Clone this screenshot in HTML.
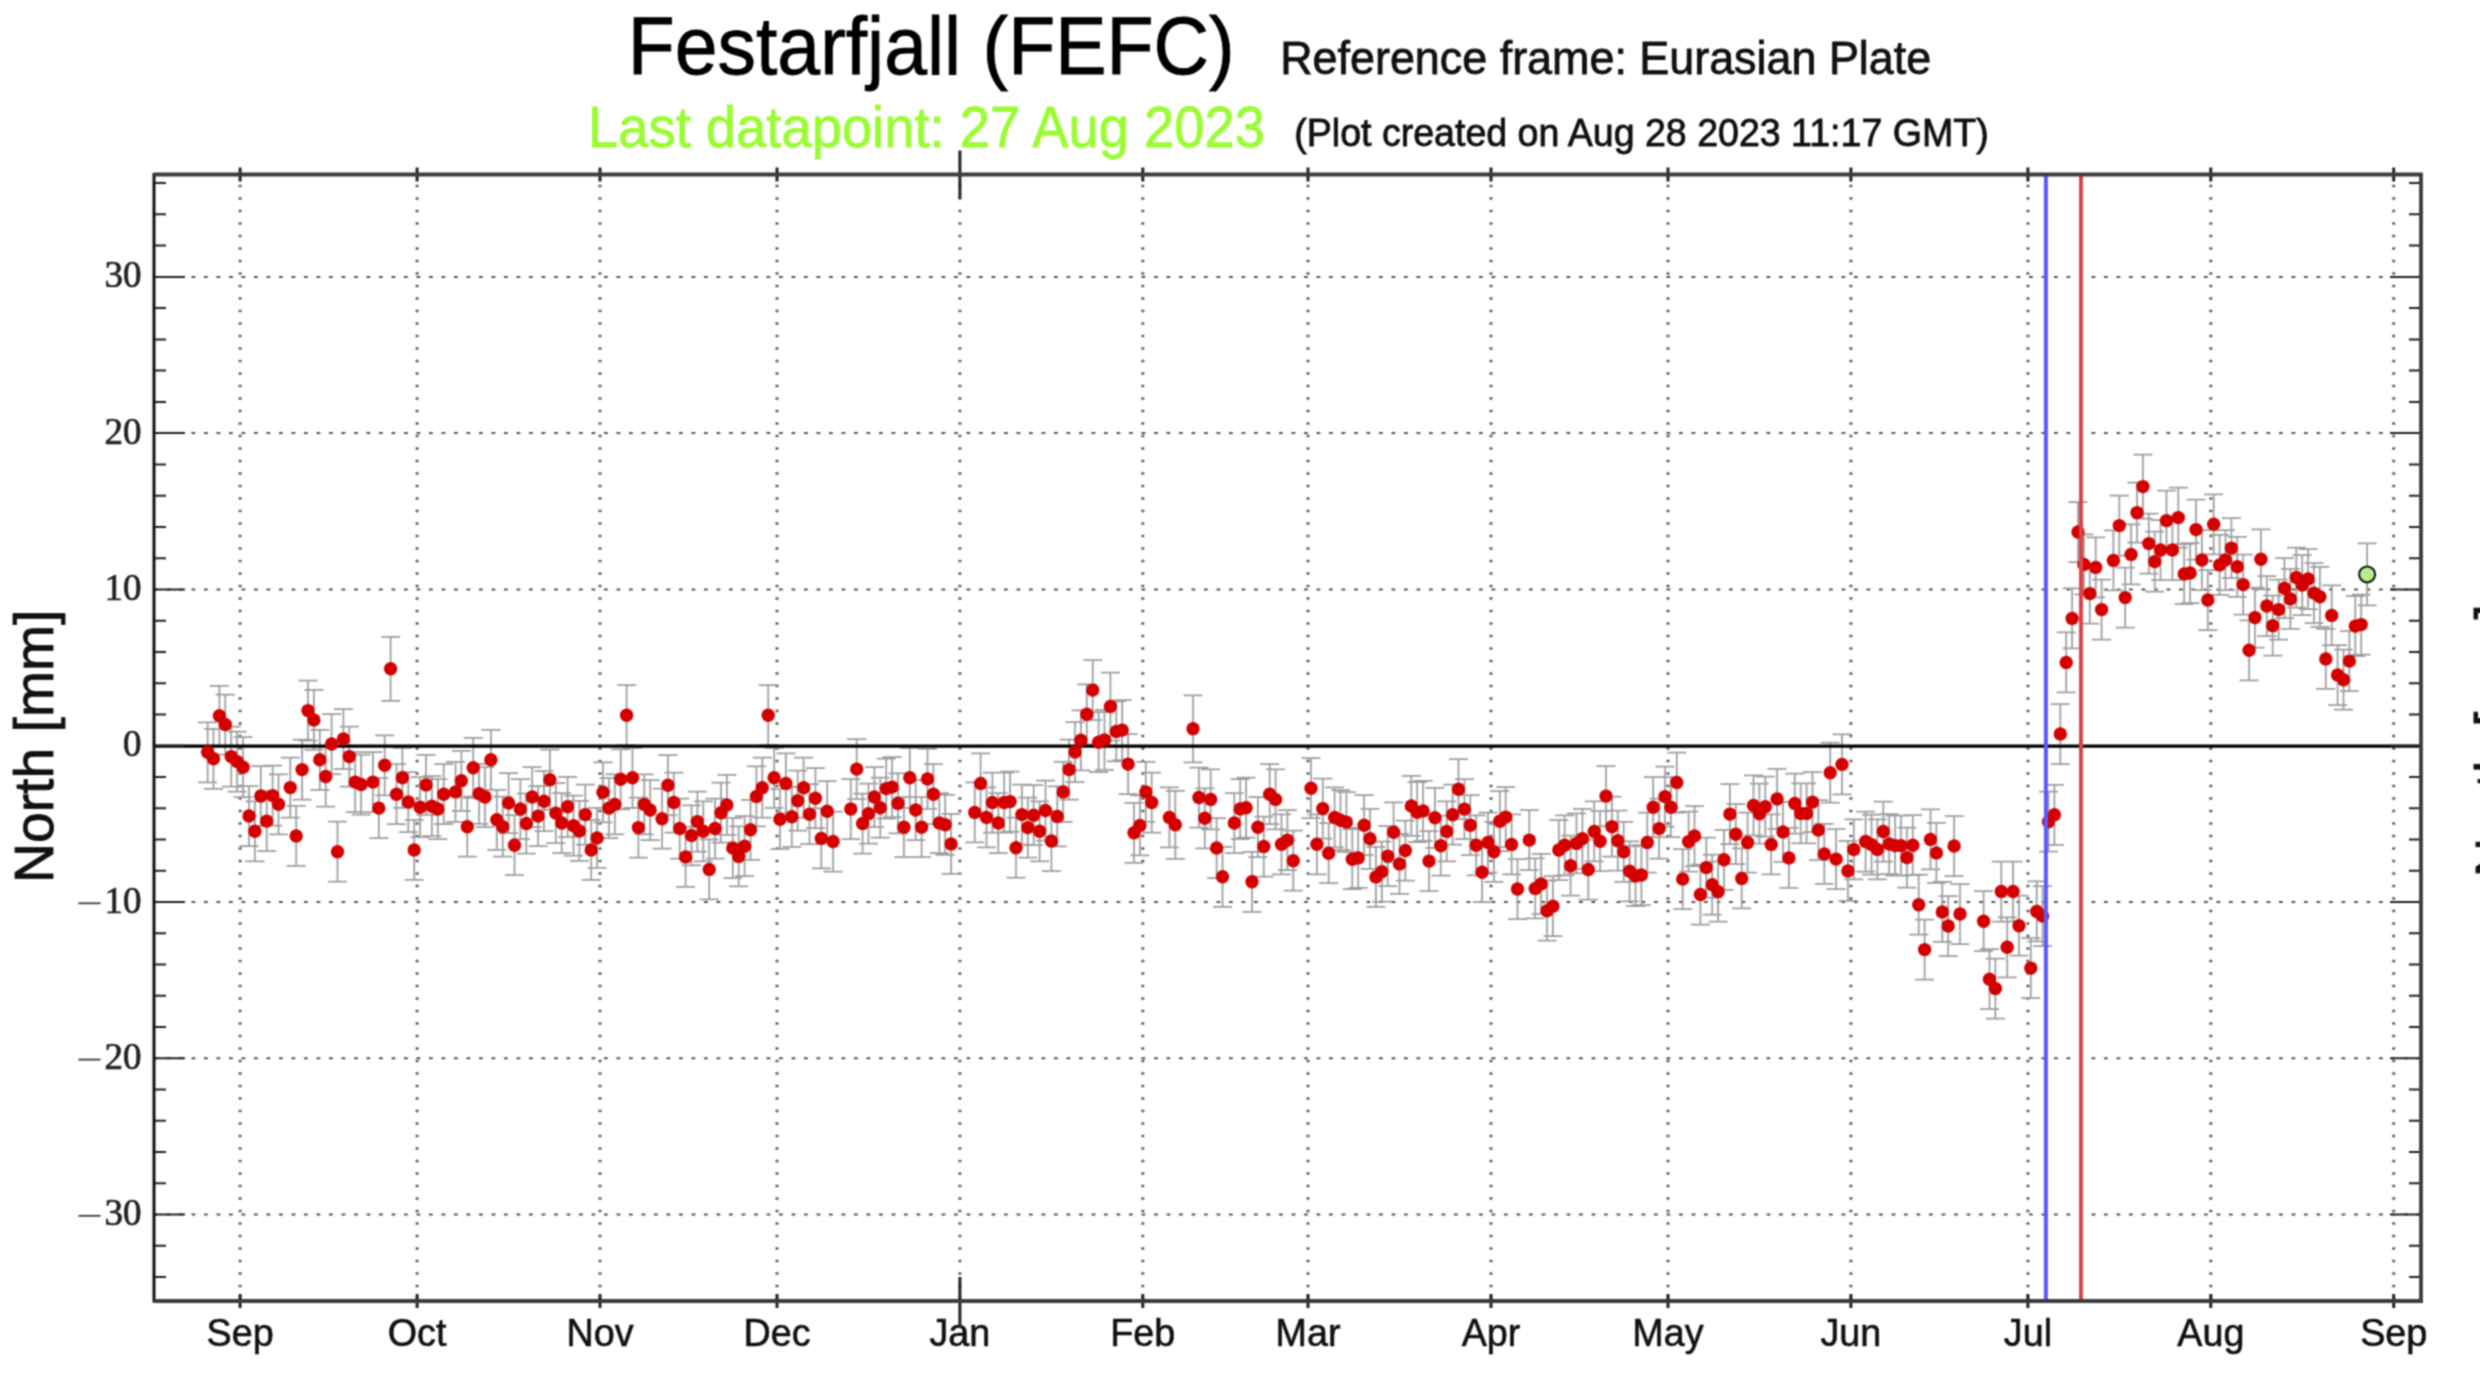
<!DOCTYPE html><html><head><meta charset="utf-8"><style>
html,body{margin:0;padding:0;background:#fff;}
svg{display:block;}
#wrap{width:2480px;height:1400px;overflow:hidden;}
text{font-family:"Liberation Sans",sans-serif;}
.serif{font-family:"Liberation Serif",serif;}
</style></head><body><div id="wrap">
<svg width="2480" height="1400" viewBox="0 0 2480 1400">
<defs><filter id="bl" color-interpolation-filters="sRGB" x="0" y="0" width="2480" height="1400" filterUnits="userSpaceOnUse"><feConvolveMatrix order="3" kernelMatrix="1 2 1 2 4 2 1 2 1" divisor="16" edgeMode="duplicate" preserveAlpha="true"/></filter></defs>
<g filter="url(#bl)">
<rect x="0" y="0" width="2480" height="1400" fill="#ffffff"/>
<path d="M240.1 174.5V1301.0M417.1 174.5V1301.0M600.0 174.5V1301.0M777.0 174.5V1301.0M959.9 174.5V1301.0M1142.8 174.5V1301.0M1308.0 174.5V1301.0M1491.0 174.5V1301.0M1668.0 174.5V1301.0M1850.9 174.5V1301.0M2027.9 174.5V1301.0M2210.8 174.5V1301.0M2393.7 174.5V1301.0" stroke="#606060" stroke-width="3" stroke-dasharray="2.6 9.9" stroke-dashoffset="2.3" fill="none"/>
<path d="M154.0 1214.5H2421.0M154.0 1058.3H2421.0M154.0 902.0H2421.0M154.0 589.4H2421.0M154.0 433.1H2421.0M154.0 276.9H2421.0" stroke="#555" stroke-width="2" stroke-dasharray="3.8 8.7" stroke-dashoffset="0" fill="none"/>
<path d="M207.6 722.3V782.3M198.1 722.3H217.1M198.1 782.3H217.1M213.5 728.8V788.8M204.0 728.8H223.0M204.0 788.8H223.0M219.4 685.8V745.8M209.9 685.8H228.9M209.9 745.8H228.9M225.3 694.5V754.5M215.8 694.5H234.8M215.8 754.5H234.8M231.2 726.6V786.6M221.7 726.6H240.7M221.7 786.6H240.7M237.1 731.6V791.6M227.6 731.6H246.6M227.6 791.6H246.6M243.1 737.2V797.2M233.6 737.2H252.6M233.6 797.2H252.6M249.0 786.0V846.0M239.5 786.0H258.5M239.5 846.0H258.5M254.9 801.3V861.3M245.4 801.3H264.4M245.4 861.3H264.4M260.8 766.0V826.0M251.3 766.0H270.3M251.3 826.0H270.3M266.7 791.1V851.1M257.2 791.1H276.2M257.2 851.1H276.2M272.6 765.6V825.6M263.1 765.6H282.1M263.1 825.6H282.1M278.5 774.3V834.3M269.0 774.3H288.0M269.0 834.3H288.0M290.3 757.6V817.6M280.8 757.6H299.8M280.8 817.6H299.8M296.2 805.9V865.9M286.7 805.9H305.7M286.7 865.9H305.7M302.1 739.6V799.6M292.6 739.6H311.6M292.6 799.6H311.6M308.0 680.6V740.6M298.5 680.6H317.5M298.5 740.6H317.5M313.9 689.9V749.9M304.4 689.9H323.4M304.4 749.9H323.4M319.8 729.8V789.8M310.3 729.8H329.3M310.3 789.8H329.3M325.7 746.5V806.5M316.2 746.5H335.2M316.2 806.5H335.2M331.6 714.0V774.0M322.1 714.0H341.1M322.1 774.0H341.1M337.5 821.7V881.7M328.0 821.7H347.0M328.0 881.7H347.0M343.4 709.0V769.0M333.9 709.0H352.9M333.9 769.0H352.9M349.3 726.6V786.6M339.8 726.6H358.8M339.8 786.6H358.8M355.2 752.1V812.1M345.7 752.1H364.7M345.7 812.1H364.7M361.1 754.5V814.5M351.6 754.5H370.6M351.6 814.5H370.6M372.9 752.1V812.1M363.4 752.1H382.4M363.4 812.1H382.4M378.8 778.1V838.1M369.3 778.1H388.3M369.3 838.1H388.3M384.7 735.3V795.3M375.2 735.3H394.2M375.2 795.3H394.2M390.6 636.8V700.8M381.1 636.8H400.1M381.1 700.8H400.1M396.5 764.2V824.2M387.0 764.2H406.0M387.0 824.2H406.0M402.4 747.8V807.8M392.9 747.8H411.9M392.9 807.8H411.9M408.3 772.0V832.0M398.8 772.0H417.8M398.8 832.0H417.8M414.2 819.9V879.9M404.7 819.9H423.7M404.7 879.9H423.7M420.1 777.2V837.2M410.6 777.2H429.6M410.6 837.2H429.6M426.0 754.9V814.9M416.5 754.9H435.5M416.5 814.9H435.5M431.9 776.2V836.2M422.4 776.2H441.4M422.4 836.2H441.4M437.8 779.0V839.0M428.3 779.0H447.3M428.3 839.0H447.3M443.7 764.2V824.2M434.2 764.2H453.2M434.2 824.2H453.2M455.5 761.9V821.9M446.0 761.9H465.0M446.0 821.9H465.0M461.4 750.8V810.8M451.9 750.8H470.9M451.9 810.8H470.9M467.3 796.7V856.7M457.8 796.7H476.8M457.8 856.7H476.8M473.2 737.8V797.8M463.7 737.8H482.7M463.7 797.8H482.7M479.1 763.8V823.8M469.6 763.8H488.6M469.6 823.8H488.6M485.0 767.0V827.0M475.5 767.0H494.5M475.5 827.0H494.5M490.9 729.8V789.8M481.4 729.8H500.4M481.4 789.8H500.4M496.8 789.8V849.8M487.3 789.8H506.3M487.3 849.8H506.3M502.7 796.7V856.7M493.2 796.7H512.2M493.2 856.7H512.2M508.6 773.1V833.1M499.1 773.1H518.1M499.1 833.1H518.1M514.5 815.2V875.2M505.0 815.2H524.0M505.0 875.2H524.0M520.4 779.0V839.0M510.9 779.0H529.9M510.9 839.0H529.9M526.3 793.5V853.5M516.8 793.5H535.8M516.8 853.5H535.8M532.2 767.0V827.0M522.7 767.0H541.7M522.7 827.0H541.7M538.1 786.1V846.1M528.6 786.1H547.6M528.6 846.1H547.6M544.0 771.2V831.2M534.5 771.2H553.5M534.5 831.2H553.5M549.9 749.7V809.7M540.4 749.7H559.4M540.4 809.7H559.4M555.8 783.1V843.1M546.3 783.1H565.3M546.3 843.1H565.3M561.7 793.0V853.0M552.2 793.0H571.2M552.2 853.0H571.2M567.6 776.8V836.8M558.1 776.8H577.1M558.1 836.8H577.1M573.5 795.7V855.7M564.0 795.7H583.0M564.0 855.7H583.0M579.4 800.9V860.9M569.9 800.9H588.9M569.9 860.9H588.9M585.3 784.6V844.6M575.8 784.6H594.8M575.8 844.6H594.8M591.2 819.9V879.9M581.7 819.9H600.7M581.7 879.9H600.7M597.1 807.9V867.9M587.6 807.9H606.6M587.6 867.9H606.6M603.0 762.3V822.3M593.5 762.3H612.5M593.5 822.3H612.5M608.9 778.1V838.1M599.4 778.1H618.4M599.4 838.1H618.4M614.8 774.4V834.4M605.3 774.4H624.3M605.3 834.4H624.3M620.7 749.3V809.3M611.2 749.3H630.2M611.2 809.3H630.2M626.6 685.2V745.2M617.1 685.2H636.1M617.1 745.2H636.1M632.5 747.8V807.8M623.0 747.8H642.0M623.0 807.8H642.0M638.4 797.6V857.6M628.9 797.6H647.9M628.9 857.6H647.9M644.3 774.4V834.4M634.8 774.4H653.8M634.8 834.4H653.8M650.2 780.0V840.0M640.7 780.0H659.7M640.7 840.0H659.7M662.0 788.7V848.7M652.5 788.7H671.5M652.5 848.7H671.5M667.9 755.2V815.2M658.4 755.2H677.4M658.4 815.2H677.4M673.8 772.5V832.5M664.3 772.5H683.3M664.3 832.5H683.3M679.7 798.5V858.5M670.2 798.5H689.2M670.2 858.5H689.2M685.6 826.9V886.9M676.1 826.9H695.1M676.1 886.9H695.1M691.5 805.4V865.4M682.0 805.4H701.0M682.0 865.4H701.0M697.4 791.6V851.6M687.9 791.6H706.9M687.9 851.6H706.9M703.3 801.3V861.3M693.8 801.3H712.8M693.8 861.3H712.8M709.2 839.4V899.4M699.7 839.4H718.7M699.7 899.4H718.7M715.1 798.5V858.5M705.6 798.5H724.6M705.6 858.5H724.6M721.0 782.7V842.7M711.5 782.7H730.5M711.5 842.7H730.5M726.9 774.9V834.9M717.4 774.9H736.4M717.4 834.9H736.4M732.8 818.0V878.0M723.3 818.0H742.3M723.3 878.0H742.3M738.7 826.4V886.4M729.2 826.4H748.2M729.2 886.4H748.2M744.6 816.2V876.2M735.1 816.2H754.1M735.1 876.2H754.1M750.5 799.8V859.8M741.0 799.8H760.0M741.0 859.8H760.0M756.4 766.4V826.4M746.9 766.4H765.9M746.9 826.4H765.9M762.3 757.7V817.7M752.8 757.7H771.8M752.8 817.7H771.8M768.2 685.2V745.2M758.7 685.2H777.7M758.7 745.2H777.7M774.1 747.8V807.8M764.6 747.8H783.6M764.6 807.8H783.6M780.0 789.2V849.2M770.5 789.2H789.5M770.5 849.2H789.5M785.9 753.4V813.4M776.4 753.4H795.4M776.4 813.4H795.4M791.8 786.8V846.8M782.3 786.8H801.3M782.3 846.8H801.3M797.7 770.7V830.7M788.2 770.7H807.2M788.2 830.7H807.2M803.6 757.7V817.7M794.1 757.7H813.1M794.1 817.7H813.1M809.5 784.2V844.2M800.0 784.2H819.0M800.0 844.2H819.0M815.4 768.2V828.2M805.9 768.2H824.9M805.9 828.2H824.9M821.3 808.4V868.4M811.8 808.4H830.8M811.8 868.4H830.8M827.2 781.2V841.2M817.7 781.2H836.7M817.7 841.2H836.7M833.1 811.5V871.5M823.6 811.5H842.6M823.6 871.5H842.6M850.8 779.0V839.0M841.3 779.0H860.3M841.3 839.0H860.3M856.7 739.1V799.1M847.2 739.1H866.2M847.2 799.1H866.2M862.6 793.5V853.5M853.1 793.5H872.1M853.1 853.5H872.1M868.5 783.7V843.7M859.0 783.7H878.0M859.0 843.7H878.0M874.4 767.0V827.0M864.9 767.0H883.9M864.9 827.0H883.9M880.3 777.7V837.7M870.8 777.7H889.8M870.8 837.7H889.8M886.2 758.6V818.6M876.7 758.6H895.7M876.7 818.6H895.7M892.1 757.1V817.1M882.6 757.1H901.6M882.6 817.1H901.6M898.0 773.4V833.4M888.5 773.4H907.5M888.5 833.4H907.5M903.9 797.2V857.2M894.4 797.2H913.4M894.4 857.2H913.4M909.8 747.8V807.8M900.3 747.8H919.3M900.3 807.8H919.3M915.7 780.0V840.0M906.2 780.0H925.2M906.2 840.0H925.2M921.6 797.2V857.2M912.1 797.2H931.1M912.1 857.2H931.1M927.5 748.9V808.9M918.0 748.9H937.0M918.0 808.9H937.0M933.4 764.2V824.2M923.9 764.2H942.9M923.9 824.2H942.9M939.3 793.0V853.0M929.8 793.0H948.8M929.8 853.0H948.8M945.2 794.8V854.8M935.7 794.8H954.7M935.7 854.8H954.7M951.1 813.9V873.9M941.6 813.9H960.6M941.6 873.9H960.6M974.7 782.4V842.4M965.2 782.4H984.2M965.2 842.4H984.2M980.6 753.4V813.4M971.1 753.4H990.1M971.1 813.4H990.1M986.5 787.4V847.4M977.0 787.4H996.0M977.0 847.4H996.0M992.4 772.5V832.5M982.9 772.5H1001.9M982.9 832.5H1001.9M998.3 793.0V853.0M988.8 793.0H1007.8M988.8 853.0H1007.8M1004.2 772.5V832.5M994.7 772.5H1013.7M994.7 832.5H1013.7M1010.1 771.6V831.6M1000.6 771.6H1019.6M1000.6 831.6H1019.6M1016.0 817.7V877.7M1006.5 817.7H1025.5M1006.5 877.7H1025.5M1021.9 784.6V844.6M1012.4 784.6H1031.4M1012.4 844.6H1031.4M1027.8 797.6V857.6M1018.3 797.6H1037.3M1018.3 857.6H1037.3M1033.7 785.2V845.2M1024.2 785.2H1043.2M1024.2 845.2H1043.2M1039.6 801.3V861.3M1030.1 801.3H1049.1M1030.1 861.3H1049.1M1045.5 780.5V840.5M1036.0 780.5H1055.0M1036.0 840.5H1055.0M1051.4 811.0V871.0M1041.9 811.0H1060.9M1041.9 871.0H1060.9M1057.3 786.4V846.4M1047.8 786.4H1066.8M1047.8 846.4H1066.8M1063.2 761.9V821.9M1053.7 761.9H1072.7M1053.7 821.9H1072.7M1069.1 739.6V799.6M1059.6 739.6H1078.6M1059.6 799.6H1078.6M1075.0 722.0V782.0M1065.5 722.0H1084.5M1065.5 782.0H1084.5M1080.9 710.3V770.3M1071.4 710.3H1090.4M1071.4 770.3H1090.4M1086.8 684.3V744.3M1077.3 684.3H1096.3M1077.3 744.3H1096.3M1092.7 660.1V720.1M1083.2 660.1H1102.2M1083.2 720.1H1102.2M1098.6 712.2V772.2M1089.1 712.2H1108.1M1089.1 772.2H1108.1M1104.5 709.9V769.9M1095.0 709.9H1114.0M1095.0 769.9H1114.0M1110.4 672.5V740.5M1100.9 672.5H1119.9M1100.9 740.5H1119.9M1116.3 701.4V761.4M1106.8 701.4H1125.8M1106.8 761.4H1125.8M1122.2 700.1V760.1M1112.7 700.1H1131.7M1112.7 760.1H1131.7M1128.1 734.1V794.1M1118.6 734.1H1137.6M1118.6 794.1H1137.6M1134.0 802.8V862.8M1124.5 802.8H1143.5M1124.5 862.8H1143.5M1139.9 795.4V855.4M1130.4 795.4H1149.4M1130.4 855.4H1149.4M1145.8 761.9V821.9M1136.3 761.9H1155.3M1136.3 821.9H1155.3M1151.7 772.5V832.5M1142.2 772.5H1161.2M1142.2 832.5H1161.2M1169.4 787.4V847.4M1159.9 787.4H1178.9M1159.9 847.4H1178.9M1175.3 790.8V858.8M1165.8 790.8H1184.8M1165.8 858.8H1184.8M1193.0 695.3V762.3M1183.5 695.3H1202.5M1183.5 762.3H1202.5M1198.9 767.5V827.5M1189.4 767.5H1208.4M1189.4 827.5H1208.4M1204.8 788.3V848.3M1195.3 788.3H1214.3M1195.3 848.3H1214.3M1210.7 769.4V829.4M1201.2 769.4H1220.2M1201.2 829.4H1220.2M1216.6 818.0V878.0M1207.1 818.0H1226.1M1207.1 878.0H1226.1M1222.5 846.8V906.8M1213.0 846.8H1232.0M1213.0 906.8H1232.0M1234.3 793.0V853.0M1224.8 793.0H1243.8M1224.8 853.0H1243.8M1240.2 779.0V839.0M1230.7 779.0H1249.7M1230.7 839.0H1249.7M1246.1 777.7V837.7M1236.6 777.7H1255.6M1236.6 837.7H1255.6M1252.0 851.8V911.8M1242.5 851.8H1261.5M1242.5 911.8H1261.5M1257.9 797.2V857.2M1248.4 797.2H1267.4M1248.4 857.2H1267.4M1263.8 816.5V876.5M1254.3 816.5H1273.3M1254.3 876.5H1273.3M1269.7 764.2V824.2M1260.2 764.2H1279.2M1260.2 824.2H1279.2M1275.6 769.4V829.4M1266.1 769.4H1285.1M1266.1 829.4H1285.1M1281.5 814.3V874.3M1272.0 814.3H1291.0M1272.0 874.3H1291.0M1287.4 810.2V870.2M1277.9 810.2H1296.9M1277.9 870.2H1296.9M1293.3 830.7V890.7M1283.8 830.7H1302.8M1283.8 890.7H1302.8M1311.0 758.2V818.2M1301.5 758.2H1320.5M1301.5 818.2H1320.5M1316.9 814.3V874.3M1307.4 814.3H1326.4M1307.4 874.3H1326.4M1322.8 778.6V838.6M1313.3 778.6H1332.3M1313.3 838.6H1332.3M1328.7 823.2V883.2M1319.2 823.2H1338.2M1319.2 883.2H1338.2M1334.6 787.4V847.4M1325.1 787.4H1344.1M1325.1 847.4H1344.1M1340.5 790.2V850.2M1331.0 790.2H1350.0M1331.0 850.2H1350.0M1346.4 792.1V852.1M1336.9 792.1H1355.9M1336.9 852.1H1355.9M1352.3 829.2V889.2M1342.8 829.2H1361.8M1342.8 889.2H1361.8M1358.2 827.9V887.9M1348.7 827.9H1367.7M1348.7 887.9H1367.7M1364.1 795.2V855.2M1354.6 795.2H1373.6M1354.6 855.2H1373.6M1370.0 808.8V868.8M1360.5 808.8H1379.5M1360.5 868.8H1379.5M1375.9 846.9V906.9M1366.4 846.9H1385.4M1366.4 906.9H1385.4M1381.8 841.7V901.7M1372.3 841.7H1391.3M1372.3 901.7H1391.3M1387.7 826.1V886.1M1378.2 826.1H1397.2M1378.2 886.1H1397.2M1393.6 802.3V862.3M1384.1 802.3H1403.1M1384.1 862.3H1403.1M1399.5 833.9V893.9M1390.0 833.9H1409.0M1390.0 893.9H1409.0M1405.4 820.5V880.5M1395.9 820.5H1414.9M1395.9 880.5H1414.9M1411.3 775.9V835.9M1401.8 775.9H1420.8M1401.8 835.9H1420.8M1417.2 782.2V842.2M1407.7 782.2H1426.7M1407.7 842.2H1426.7M1423.1 780.9V840.9M1413.6 780.9H1432.6M1413.6 840.9H1432.6M1429.0 831.1V891.1M1419.5 831.1H1438.5M1419.5 891.1H1438.5M1434.9 787.8V847.8M1425.4 787.8H1444.4M1425.4 847.8H1444.4M1440.8 815.7V875.7M1431.3 815.7H1450.3M1431.3 875.7H1450.3M1446.7 801.4V861.4M1437.2 801.4H1456.2M1437.2 861.4H1456.2M1452.6 784.7V844.7M1443.1 784.7H1462.1M1443.1 844.7H1462.1M1458.5 759.2V819.2M1449.0 759.2H1468.0M1449.0 819.2H1468.0M1464.4 779.1V839.1M1454.9 779.1H1473.9M1454.9 839.1H1473.9M1470.3 795.2V855.2M1460.8 795.2H1479.8M1460.8 855.2H1479.8M1476.2 815.3V875.3M1466.7 815.3H1485.7M1466.7 875.3H1485.7M1482.1 842.2V902.2M1472.6 842.2H1491.6M1472.6 902.2H1491.6M1488.0 812.5V872.5M1478.5 812.5H1497.5M1478.5 872.5H1497.5M1493.9 821.8V881.8M1484.4 821.8H1503.4M1484.4 881.8H1503.4M1499.8 791.2V851.2M1490.3 791.2H1509.3M1490.3 851.2H1509.3M1505.7 787.1V847.1M1496.2 787.1H1515.2M1496.2 847.1H1515.2M1511.6 814.4V874.4M1502.1 814.4H1521.1M1502.1 874.4H1521.1M1517.5 859.0V919.0M1508.0 859.0H1527.0M1508.0 919.0H1527.0M1529.3 810.1V870.1M1519.8 810.1H1538.8M1519.8 870.1H1538.8M1535.2 858.4V918.4M1525.7 858.4H1544.7M1525.7 918.4H1544.7M1541.1 853.9V913.9M1531.6 853.9H1550.6M1531.6 913.9H1550.6M1547.0 880.7V940.7M1537.5 880.7H1556.5M1537.5 940.7H1556.5M1552.9 876.2V936.2M1543.4 876.2H1562.4M1543.4 936.2H1562.4M1558.8 820.0V880.0M1549.3 820.0H1568.3M1549.3 880.0H1568.3M1564.7 815.3V875.3M1555.2 815.3H1574.2M1555.2 875.3H1574.2M1570.6 835.7V895.7M1561.1 835.7H1580.1M1561.1 895.7H1580.1M1576.5 813.4V873.4M1567.0 813.4H1586.0M1567.0 873.4H1586.0M1582.4 808.8V868.8M1572.9 808.8H1591.9M1572.9 868.8H1591.9M1588.3 839.5V899.5M1578.8 839.5H1597.8M1578.8 899.5H1597.8M1594.2 801.4V861.4M1584.7 801.4H1603.7M1584.7 861.4H1603.7M1600.1 811.2V871.2M1590.6 811.2H1609.6M1590.6 871.2H1609.6M1606.0 766.1V826.1M1596.5 766.1H1615.5M1596.5 826.1H1615.5M1611.9 796.7V856.7M1602.4 796.7H1621.4M1602.4 856.7H1621.4M1617.8 810.7V870.7M1608.3 810.7H1627.3M1608.3 870.7H1627.3M1623.7 821.8V881.8M1614.2 821.8H1633.2M1614.2 881.8H1633.2M1629.6 841.3V901.3M1620.1 841.3H1639.1M1620.1 901.3H1639.1M1635.5 846.0V906.0M1626.0 846.0H1645.0M1626.0 906.0H1645.0M1641.4 845.0V905.0M1631.9 845.0H1650.9M1631.9 905.0H1650.9M1647.3 812.5V872.5M1637.8 812.5H1656.8M1637.8 872.5H1656.8M1653.2 777.2V837.2M1643.7 777.2H1662.7M1643.7 837.2H1662.7M1659.1 798.6V858.6M1649.6 798.6H1668.6M1649.6 858.6H1668.6M1665.0 766.6V826.6M1655.5 766.6H1674.5M1655.5 826.6H1674.5M1670.9 777.2V837.2M1661.4 777.2H1680.4M1661.4 837.2H1680.4M1676.8 752.5V812.5M1667.3 752.5H1686.3M1667.3 812.5H1686.3M1682.7 849.1V909.1M1673.2 849.1H1692.2M1673.2 909.1H1692.2M1688.6 811.6V871.6M1679.1 811.6H1698.1M1679.1 871.6H1698.1M1694.5 806.0V866.0M1685.0 806.0H1704.0M1685.0 866.0H1704.0M1700.4 864.5V924.5M1690.9 864.5H1709.9M1690.9 924.5H1709.9M1706.3 837.6V897.6M1696.8 837.6H1715.8M1696.8 897.6H1715.8M1712.2 854.7V914.7M1702.7 854.7H1721.7M1702.7 914.7H1721.7M1718.1 861.7V921.7M1708.6 861.7H1727.6M1708.6 921.7H1727.6M1724.0 829.8V889.8M1714.5 829.8H1733.5M1714.5 889.8H1733.5M1729.9 784.1V844.1M1720.4 784.1H1739.4M1720.4 844.1H1739.4M1735.8 804.2V864.2M1726.3 804.2H1745.3M1726.3 864.2H1745.3M1741.7 848.4V908.4M1732.2 848.4H1751.2M1732.2 908.4H1751.2M1747.6 812.5V872.5M1738.1 812.5H1757.1M1738.1 872.5H1757.1M1753.5 775.4V835.4M1744.0 775.4H1763.0M1744.0 835.4H1763.0M1759.4 783.7V843.7M1749.9 783.7H1768.9M1749.9 843.7H1768.9M1765.3 776.7V836.7M1755.8 776.7H1774.8M1755.8 836.7H1774.8M1771.2 814.4V874.4M1761.7 814.4H1780.7M1761.7 874.4H1780.7M1777.1 768.9V828.9M1767.6 768.9H1786.6M1767.6 828.9H1786.6M1783.0 801.9V861.9M1773.5 801.9H1792.5M1773.5 861.9H1792.5M1788.9 827.9V887.9M1779.4 827.9H1798.4M1779.4 887.9H1798.4M1794.8 773.5V833.5M1785.3 773.5H1804.3M1785.3 833.5H1804.3M1800.7 783.4V843.4M1791.2 783.4H1810.2M1791.2 843.4H1810.2M1806.6 783.4V843.4M1797.1 783.4H1816.1M1797.1 843.4H1816.1M1812.5 772.1V832.1M1803.0 772.1H1822.0M1803.0 832.1H1822.0M1818.4 800.1V860.1M1808.9 800.1H1827.9M1808.9 860.1H1827.9M1824.3 823.9V883.9M1814.8 823.9H1833.8M1814.8 883.9H1833.8M1830.2 742.7V802.7M1820.7 742.7H1839.7M1820.7 802.7H1839.7M1836.1 829.1V889.1M1826.6 829.1H1845.6M1826.6 889.1H1845.6M1842.0 734.4V794.4M1832.5 734.4H1851.5M1832.5 794.4H1851.5M1847.9 840.9V900.9M1838.4 840.9H1857.4M1838.4 900.9H1857.4M1853.8 819.4V879.4M1844.3 819.4H1863.3M1844.3 879.4H1863.3M1865.6 811.5V871.5M1856.1 811.5H1875.1M1856.1 871.5H1875.1M1871.5 814.6V874.6M1862.0 814.6H1881.0M1862.0 874.6H1881.0M1877.4 819.4V879.4M1867.9 819.4H1886.9M1867.9 879.4H1886.9M1883.3 801.5V861.5M1873.8 801.5H1892.8M1873.8 861.5H1892.8M1889.2 814.0V874.0M1879.7 814.0H1898.7M1879.7 874.0H1898.7M1895.1 815.6V875.6M1885.6 815.6H1904.6M1885.6 875.6H1904.6M1901.0 815.6V875.6M1891.5 815.6H1910.5M1891.5 875.6H1910.5M1906.9 827.6V887.6M1897.4 827.6H1916.4M1897.4 887.6H1916.4M1912.8 815.2V875.2M1903.3 815.2H1922.3M1903.3 875.2H1922.3M1918.7 874.7V934.7M1909.2 874.7H1928.2M1909.2 934.7H1928.2M1924.6 919.6V979.6M1915.1 919.6H1934.1M1915.1 979.6H1934.1M1930.5 809.4V869.4M1921.0 809.4H1940.0M1921.0 869.4H1940.0M1936.4 822.9V882.9M1926.9 822.9H1945.9M1926.9 882.9H1945.9M1942.3 881.9V941.9M1932.8 881.9H1951.8M1932.8 941.9H1951.8M1948.2 896.0V956.0M1938.7 896.0H1957.7M1938.7 956.0H1957.7M1954.1 816.0V876.0M1944.6 816.0H1963.6M1944.6 876.0H1963.6M1960.0 884.0V944.0M1950.5 884.0H1969.5M1950.5 944.0H1969.5M1983.6 891.2V951.2M1974.1 891.2H1993.1M1974.1 951.2H1993.1M1989.5 949.2V1009.2M1980.0 949.2H1999.0M1980.0 1009.2H1999.0M1995.4 958.5V1018.5M1985.9 958.5H2004.9M1985.9 1018.5H2004.9M2001.3 861.5V921.5M1991.8 861.5H2010.8M1991.8 921.5H2010.8M2007.2 917.3V977.3M1997.7 917.3H2016.7M1997.7 977.3H2016.7M2013.1 861.5V921.5M2003.6 861.5H2022.6M2003.6 921.5H2022.6M2019.0 895.7V955.7M2009.5 895.7H2028.5M2009.5 955.7H2028.5M2030.8 938.1V998.1M2021.3 938.1H2040.3M2021.3 998.1H2040.3M2036.7 881.4V941.4M2027.2 881.4H2046.2M2027.2 941.4H2046.2M2042.6 886.0V946.0M2033.1 886.0H2052.1M2033.1 946.0H2052.1M2048.5 791.7V851.7M2039.0 791.7H2058.0M2039.0 851.7H2058.0M2054.4 784.8V844.8M2044.9 784.8H2063.9M2044.9 844.8H2063.9M2060.3 704.0V764.0M2050.8 704.0H2069.8M2050.8 764.0H2069.8M2066.2 632.4V692.4M2056.7 632.4H2075.7M2056.7 692.4H2075.7M2072.1 588.4V648.4M2062.6 588.4H2081.6M2062.6 648.4H2081.6M2078.0 502.0V562.0M2068.5 502.0H2087.5M2068.5 562.0H2087.5M2083.9 534.4V594.4M2074.4 534.4H2093.4M2074.4 594.4H2093.4M2089.8 563.6V623.6M2080.3 563.6H2099.3M2080.3 623.6H2099.3M2095.7 537.4V597.4M2086.2 537.4H2105.2M2086.2 597.4H2105.2M2101.6 579.6V639.6M2092.1 579.6H2111.1M2092.1 639.6H2111.1M2113.4 530.4V590.4M2103.9 530.4H2122.9M2103.9 590.4H2122.9M2119.3 495.6V555.6M2109.8 495.6H2128.8M2109.8 555.6H2128.8M2125.2 567.6V627.6M2115.7 567.6H2134.7M2115.7 627.6H2134.7M2131.1 524.4V584.4M2121.6 524.4H2140.6M2121.6 584.4H2140.6M2137.0 482.6V542.6M2127.5 482.6H2146.5M2127.5 542.6H2146.5M2142.9 454.6V518.6M2133.4 454.6H2152.4M2133.4 518.6H2152.4M2148.8 513.6V573.6M2139.3 513.6H2158.3M2139.3 573.6H2158.3M2154.7 531.6V591.6M2145.2 531.6H2164.2M2145.2 591.6H2164.2M2160.6 520.0V580.0M2151.1 520.0H2170.1M2151.1 580.0H2170.1M2166.5 490.6V550.6M2157.0 490.6H2176.0M2157.0 550.6H2176.0M2172.4 520.0V580.0M2162.9 520.0H2181.9M2162.9 580.0H2181.9M2178.3 487.6V547.6M2168.8 487.6H2187.8M2168.8 547.6H2187.8M2184.2 544.0V604.0M2174.7 544.0H2193.7M2174.7 604.0H2193.7M2190.1 543.0V603.0M2180.6 543.0H2199.6M2180.6 603.0H2199.6M2196.0 499.6V559.6M2186.5 499.6H2205.5M2186.5 559.6H2205.5M2201.9 530.0V590.0M2192.4 530.0H2211.4M2192.4 590.0H2211.4M2207.8 570.0V630.0M2198.3 570.0H2217.3M2198.3 630.0H2217.3M2213.7 494.3V554.3M2204.2 494.3H2223.2M2204.2 554.3H2223.2M2219.6 534.9V594.9M2210.1 534.9H2229.1M2210.1 594.9H2229.1M2225.5 530.0V590.0M2216.0 530.0H2235.0M2216.0 590.0H2235.0M2231.4 518.1V578.1M2221.9 518.1H2240.9M2221.9 578.1H2240.9M2237.3 536.8V596.8M2227.8 536.8H2246.8M2227.8 596.8H2246.8M2243.2 554.6V614.6M2233.7 554.6H2252.7M2233.7 614.6H2252.7M2249.1 620.3V680.3M2239.6 620.3H2258.6M2239.6 680.3H2258.6M2255.0 587.6V647.6M2245.5 587.6H2264.5M2245.5 647.6H2264.5M2260.9 529.3V589.3M2251.4 529.3H2270.4M2251.4 589.3H2270.4M2266.8 576.0V636.0M2257.3 576.0H2276.3M2257.3 636.0H2276.3M2272.7 595.7V655.7M2263.2 595.7H2282.2M2263.2 655.7H2282.2M2278.6 579.6V639.6M2269.1 579.6H2288.1M2269.1 639.6H2288.1M2284.5 558.2V618.2M2275.0 558.2H2294.0M2275.0 618.2H2294.0M2290.4 568.9V628.9M2280.9 568.9H2299.9M2280.9 628.9H2299.9M2296.3 547.5V607.5M2286.8 547.5H2305.8M2286.8 607.5H2305.8M2302.2 555.0V615.0M2292.7 555.0H2311.7M2292.7 615.0H2311.7M2308.1 549.0V609.0M2298.6 549.0H2317.6M2298.6 609.0H2317.6M2314.0 563.1V623.1M2304.5 563.1H2323.5M2304.5 623.1H2323.5M2319.9 566.8V626.8M2310.4 566.8H2329.4M2310.4 626.8H2329.4M2325.8 628.9V688.9M2316.3 628.9H2335.3M2316.3 688.9H2335.3M2331.7 585.4V645.4M2322.2 585.4H2341.2M2322.2 645.4H2341.2M2337.6 645.0V705.0M2328.1 645.0H2347.1M2328.1 705.0H2347.1M2343.5 649.7V709.7M2334.0 649.7H2353.0M2334.0 709.7H2353.0M2349.4 631.1V691.1M2339.9 631.1H2358.9M2339.9 691.1H2358.9M2355.3 596.1V656.1M2345.8 596.1H2364.8M2345.8 656.1H2364.8M2361.2 594.6V654.6M2351.7 594.6H2370.7M2351.7 654.6H2370.7M2367.1 543.4V605.4M2357.6 543.4H2376.6M2357.6 605.4H2376.6" stroke="#9e9e9e" stroke-width="1.75" fill="none"/>
<path d="M154.0 746.2H2421.0" stroke="#000" stroke-width="3.2"/>
<g fill="#d40000"><circle cx="207.6" cy="752.3" r="6.7"/><circle cx="213.5" cy="758.8" r="6.7"/><circle cx="219.4" cy="715.8" r="6.7"/><circle cx="225.3" cy="724.5" r="6.7"/><circle cx="231.2" cy="756.6" r="6.7"/><circle cx="237.1" cy="761.6" r="6.7"/><circle cx="243.1" cy="767.2" r="6.7"/><circle cx="249.0" cy="816.0" r="6.7"/><circle cx="254.9" cy="831.3" r="6.7"/><circle cx="260.8" cy="796.0" r="6.7"/><circle cx="266.7" cy="821.1" r="6.7"/><circle cx="272.6" cy="795.6" r="6.7"/><circle cx="278.5" cy="804.3" r="6.7"/><circle cx="290.3" cy="787.6" r="6.7"/><circle cx="296.2" cy="835.9" r="6.7"/><circle cx="302.1" cy="769.6" r="6.7"/><circle cx="308.0" cy="710.6" r="6.7"/><circle cx="313.9" cy="719.9" r="6.7"/><circle cx="319.8" cy="759.8" r="6.7"/><circle cx="325.7" cy="776.5" r="6.7"/><circle cx="331.6" cy="744.0" r="6.7"/><circle cx="337.5" cy="851.7" r="6.7"/><circle cx="343.4" cy="739.0" r="6.7"/><circle cx="349.3" cy="756.6" r="6.7"/><circle cx="355.2" cy="782.1" r="6.7"/><circle cx="361.1" cy="784.5" r="6.7"/><circle cx="372.9" cy="782.1" r="6.7"/><circle cx="378.8" cy="808.1" r="6.7"/><circle cx="384.7" cy="765.3" r="6.7"/><circle cx="390.6" cy="668.8" r="6.7"/><circle cx="396.5" cy="794.2" r="6.7"/><circle cx="402.4" cy="777.8" r="6.7"/><circle cx="408.3" cy="802.0" r="6.7"/><circle cx="414.2" cy="849.9" r="6.7"/><circle cx="420.1" cy="807.2" r="6.7"/><circle cx="426.0" cy="784.9" r="6.7"/><circle cx="431.9" cy="806.2" r="6.7"/><circle cx="437.8" cy="809.0" r="6.7"/><circle cx="443.7" cy="794.2" r="6.7"/><circle cx="455.5" cy="791.9" r="6.7"/><circle cx="461.4" cy="780.8" r="6.7"/><circle cx="467.3" cy="826.7" r="6.7"/><circle cx="473.2" cy="767.8" r="6.7"/><circle cx="479.1" cy="793.8" r="6.7"/><circle cx="485.0" cy="797.0" r="6.7"/><circle cx="490.9" cy="759.8" r="6.7"/><circle cx="496.8" cy="819.8" r="6.7"/><circle cx="502.7" cy="826.7" r="6.7"/><circle cx="508.6" cy="803.1" r="6.7"/><circle cx="514.5" cy="845.2" r="6.7"/><circle cx="520.4" cy="809.0" r="6.7"/><circle cx="526.3" cy="823.5" r="6.7"/><circle cx="532.2" cy="797.0" r="6.7"/><circle cx="538.1" cy="816.1" r="6.7"/><circle cx="544.0" cy="801.2" r="6.7"/><circle cx="549.9" cy="779.7" r="6.7"/><circle cx="555.8" cy="813.1" r="6.7"/><circle cx="561.7" cy="823.0" r="6.7"/><circle cx="567.6" cy="806.8" r="6.7"/><circle cx="573.5" cy="825.7" r="6.7"/><circle cx="579.4" cy="830.9" r="6.7"/><circle cx="585.3" cy="814.6" r="6.7"/><circle cx="591.2" cy="849.9" r="6.7"/><circle cx="597.1" cy="837.9" r="6.7"/><circle cx="603.0" cy="792.3" r="6.7"/><circle cx="608.9" cy="808.1" r="6.7"/><circle cx="614.8" cy="804.4" r="6.7"/><circle cx="620.7" cy="779.3" r="6.7"/><circle cx="626.6" cy="715.2" r="6.7"/><circle cx="632.5" cy="777.8" r="6.7"/><circle cx="638.4" cy="827.6" r="6.7"/><circle cx="644.3" cy="804.4" r="6.7"/><circle cx="650.2" cy="810.0" r="6.7"/><circle cx="662.0" cy="818.7" r="6.7"/><circle cx="667.9" cy="785.2" r="6.7"/><circle cx="673.8" cy="802.5" r="6.7"/><circle cx="679.7" cy="828.5" r="6.7"/><circle cx="685.6" cy="856.9" r="6.7"/><circle cx="691.5" cy="835.4" r="6.7"/><circle cx="697.4" cy="821.6" r="6.7"/><circle cx="703.3" cy="831.3" r="6.7"/><circle cx="709.2" cy="869.4" r="6.7"/><circle cx="715.1" cy="828.5" r="6.7"/><circle cx="721.0" cy="812.7" r="6.7"/><circle cx="726.9" cy="804.9" r="6.7"/><circle cx="732.8" cy="848.0" r="6.7"/><circle cx="738.7" cy="856.4" r="6.7"/><circle cx="744.6" cy="846.2" r="6.7"/><circle cx="750.5" cy="829.8" r="6.7"/><circle cx="756.4" cy="796.4" r="6.7"/><circle cx="762.3" cy="787.7" r="6.7"/><circle cx="768.2" cy="715.2" r="6.7"/><circle cx="774.1" cy="777.8" r="6.7"/><circle cx="780.0" cy="819.2" r="6.7"/><circle cx="785.9" cy="783.4" r="6.7"/><circle cx="791.8" cy="816.8" r="6.7"/><circle cx="797.7" cy="800.7" r="6.7"/><circle cx="803.6" cy="787.7" r="6.7"/><circle cx="809.5" cy="814.2" r="6.7"/><circle cx="815.4" cy="798.2" r="6.7"/><circle cx="821.3" cy="838.4" r="6.7"/><circle cx="827.2" cy="811.2" r="6.7"/><circle cx="833.1" cy="841.5" r="6.7"/><circle cx="850.8" cy="809.0" r="6.7"/><circle cx="856.7" cy="769.1" r="6.7"/><circle cx="862.6" cy="823.5" r="6.7"/><circle cx="868.5" cy="813.7" r="6.7"/><circle cx="874.4" cy="797.0" r="6.7"/><circle cx="880.3" cy="807.7" r="6.7"/><circle cx="886.2" cy="788.6" r="6.7"/><circle cx="892.1" cy="787.1" r="6.7"/><circle cx="898.0" cy="803.4" r="6.7"/><circle cx="903.9" cy="827.2" r="6.7"/><circle cx="909.8" cy="777.8" r="6.7"/><circle cx="915.7" cy="810.0" r="6.7"/><circle cx="921.6" cy="827.2" r="6.7"/><circle cx="927.5" cy="778.9" r="6.7"/><circle cx="933.4" cy="794.2" r="6.7"/><circle cx="939.3" cy="823.0" r="6.7"/><circle cx="945.2" cy="824.8" r="6.7"/><circle cx="951.1" cy="843.9" r="6.7"/><circle cx="974.7" cy="812.4" r="6.7"/><circle cx="980.6" cy="783.4" r="6.7"/><circle cx="986.5" cy="817.4" r="6.7"/><circle cx="992.4" cy="802.5" r="6.7"/><circle cx="998.3" cy="823.0" r="6.7"/><circle cx="1004.2" cy="802.5" r="6.7"/><circle cx="1010.1" cy="801.6" r="6.7"/><circle cx="1016.0" cy="847.7" r="6.7"/><circle cx="1021.9" cy="814.6" r="6.7"/><circle cx="1027.8" cy="827.6" r="6.7"/><circle cx="1033.7" cy="815.2" r="6.7"/><circle cx="1039.6" cy="831.3" r="6.7"/><circle cx="1045.5" cy="810.5" r="6.7"/><circle cx="1051.4" cy="841.0" r="6.7"/><circle cx="1057.3" cy="816.4" r="6.7"/><circle cx="1063.2" cy="791.9" r="6.7"/><circle cx="1069.1" cy="769.6" r="6.7"/><circle cx="1075.0" cy="752.0" r="6.7"/><circle cx="1080.9" cy="740.3" r="6.7"/><circle cx="1086.8" cy="714.3" r="6.7"/><circle cx="1092.7" cy="690.1" r="6.7"/><circle cx="1098.6" cy="742.2" r="6.7"/><circle cx="1104.5" cy="739.9" r="6.7"/><circle cx="1110.4" cy="706.5" r="6.7"/><circle cx="1116.3" cy="731.4" r="6.7"/><circle cx="1122.2" cy="730.1" r="6.7"/><circle cx="1128.1" cy="764.1" r="6.7"/><circle cx="1134.0" cy="832.8" r="6.7"/><circle cx="1139.9" cy="825.4" r="6.7"/><circle cx="1145.8" cy="791.9" r="6.7"/><circle cx="1151.7" cy="802.5" r="6.7"/><circle cx="1169.4" cy="817.4" r="6.7"/><circle cx="1175.3" cy="824.8" r="6.7"/><circle cx="1193.0" cy="728.8" r="6.7"/><circle cx="1198.9" cy="797.5" r="6.7"/><circle cx="1204.8" cy="818.3" r="6.7"/><circle cx="1210.7" cy="799.4" r="6.7"/><circle cx="1216.6" cy="848.0" r="6.7"/><circle cx="1222.5" cy="876.8" r="6.7"/><circle cx="1234.3" cy="823.0" r="6.7"/><circle cx="1240.2" cy="809.0" r="6.7"/><circle cx="1246.1" cy="807.7" r="6.7"/><circle cx="1252.0" cy="881.8" r="6.7"/><circle cx="1257.9" cy="827.2" r="6.7"/><circle cx="1263.8" cy="846.5" r="6.7"/><circle cx="1269.7" cy="794.2" r="6.7"/><circle cx="1275.6" cy="799.4" r="6.7"/><circle cx="1281.5" cy="844.3" r="6.7"/><circle cx="1287.4" cy="840.2" r="6.7"/><circle cx="1293.3" cy="860.7" r="6.7"/><circle cx="1311.0" cy="788.2" r="6.7"/><circle cx="1316.9" cy="844.3" r="6.7"/><circle cx="1322.8" cy="808.6" r="6.7"/><circle cx="1328.7" cy="853.2" r="6.7"/><circle cx="1334.6" cy="817.4" r="6.7"/><circle cx="1340.5" cy="820.2" r="6.7"/><circle cx="1346.4" cy="822.1" r="6.7"/><circle cx="1352.3" cy="859.2" r="6.7"/><circle cx="1358.2" cy="857.9" r="6.7"/><circle cx="1364.1" cy="825.2" r="6.7"/><circle cx="1370.0" cy="838.8" r="6.7"/><circle cx="1375.9" cy="876.9" r="6.7"/><circle cx="1381.8" cy="871.7" r="6.7"/><circle cx="1387.7" cy="856.1" r="6.7"/><circle cx="1393.6" cy="832.3" r="6.7"/><circle cx="1399.5" cy="863.9" r="6.7"/><circle cx="1405.4" cy="850.5" r="6.7"/><circle cx="1411.3" cy="805.9" r="6.7"/><circle cx="1417.2" cy="812.2" r="6.7"/><circle cx="1423.1" cy="810.9" r="6.7"/><circle cx="1429.0" cy="861.1" r="6.7"/><circle cx="1434.9" cy="817.8" r="6.7"/><circle cx="1440.8" cy="845.7" r="6.7"/><circle cx="1446.7" cy="831.4" r="6.7"/><circle cx="1452.6" cy="814.7" r="6.7"/><circle cx="1458.5" cy="789.2" r="6.7"/><circle cx="1464.4" cy="809.1" r="6.7"/><circle cx="1470.3" cy="825.2" r="6.7"/><circle cx="1476.2" cy="845.3" r="6.7"/><circle cx="1482.1" cy="872.2" r="6.7"/><circle cx="1488.0" cy="842.5" r="6.7"/><circle cx="1493.9" cy="851.8" r="6.7"/><circle cx="1499.8" cy="821.2" r="6.7"/><circle cx="1505.7" cy="817.1" r="6.7"/><circle cx="1511.6" cy="844.4" r="6.7"/><circle cx="1517.5" cy="889.0" r="6.7"/><circle cx="1529.3" cy="840.1" r="6.7"/><circle cx="1535.2" cy="888.4" r="6.7"/><circle cx="1541.1" cy="883.9" r="6.7"/><circle cx="1547.0" cy="910.7" r="6.7"/><circle cx="1552.9" cy="906.2" r="6.7"/><circle cx="1558.8" cy="850.0" r="6.7"/><circle cx="1564.7" cy="845.3" r="6.7"/><circle cx="1570.6" cy="865.7" r="6.7"/><circle cx="1576.5" cy="843.4" r="6.7"/><circle cx="1582.4" cy="838.8" r="6.7"/><circle cx="1588.3" cy="869.5" r="6.7"/><circle cx="1594.2" cy="831.4" r="6.7"/><circle cx="1600.1" cy="841.2" r="6.7"/><circle cx="1606.0" cy="796.1" r="6.7"/><circle cx="1611.9" cy="826.7" r="6.7"/><circle cx="1617.8" cy="840.7" r="6.7"/><circle cx="1623.7" cy="851.8" r="6.7"/><circle cx="1629.6" cy="871.3" r="6.7"/><circle cx="1635.5" cy="876.0" r="6.7"/><circle cx="1641.4" cy="875.0" r="6.7"/><circle cx="1647.3" cy="842.5" r="6.7"/><circle cx="1653.2" cy="807.2" r="6.7"/><circle cx="1659.1" cy="828.6" r="6.7"/><circle cx="1665.0" cy="796.6" r="6.7"/><circle cx="1670.9" cy="807.2" r="6.7"/><circle cx="1676.8" cy="782.5" r="6.7"/><circle cx="1682.7" cy="879.1" r="6.7"/><circle cx="1688.6" cy="841.6" r="6.7"/><circle cx="1694.5" cy="836.0" r="6.7"/><circle cx="1700.4" cy="894.5" r="6.7"/><circle cx="1706.3" cy="867.6" r="6.7"/><circle cx="1712.2" cy="884.7" r="6.7"/><circle cx="1718.1" cy="891.7" r="6.7"/><circle cx="1724.0" cy="859.8" r="6.7"/><circle cx="1729.9" cy="814.1" r="6.7"/><circle cx="1735.8" cy="834.2" r="6.7"/><circle cx="1741.7" cy="878.4" r="6.7"/><circle cx="1747.6" cy="842.5" r="6.7"/><circle cx="1753.5" cy="805.4" r="6.7"/><circle cx="1759.4" cy="813.7" r="6.7"/><circle cx="1765.3" cy="806.7" r="6.7"/><circle cx="1771.2" cy="844.4" r="6.7"/><circle cx="1777.1" cy="798.9" r="6.7"/><circle cx="1783.0" cy="831.9" r="6.7"/><circle cx="1788.9" cy="857.9" r="6.7"/><circle cx="1794.8" cy="803.5" r="6.7"/><circle cx="1800.7" cy="813.4" r="6.7"/><circle cx="1806.6" cy="813.4" r="6.7"/><circle cx="1812.5" cy="802.1" r="6.7"/><circle cx="1818.4" cy="830.1" r="6.7"/><circle cx="1824.3" cy="853.9" r="6.7"/><circle cx="1830.2" cy="772.7" r="6.7"/><circle cx="1836.1" cy="859.1" r="6.7"/><circle cx="1842.0" cy="764.4" r="6.7"/><circle cx="1847.9" cy="870.9" r="6.7"/><circle cx="1853.8" cy="849.4" r="6.7"/><circle cx="1865.6" cy="841.5" r="6.7"/><circle cx="1871.5" cy="844.6" r="6.7"/><circle cx="1877.4" cy="849.4" r="6.7"/><circle cx="1883.3" cy="831.5" r="6.7"/><circle cx="1889.2" cy="844.0" r="6.7"/><circle cx="1895.1" cy="845.6" r="6.7"/><circle cx="1901.0" cy="845.6" r="6.7"/><circle cx="1906.9" cy="857.6" r="6.7"/><circle cx="1912.8" cy="845.2" r="6.7"/><circle cx="1918.7" cy="904.7" r="6.7"/><circle cx="1924.6" cy="949.6" r="6.7"/><circle cx="1930.5" cy="839.4" r="6.7"/><circle cx="1936.4" cy="852.9" r="6.7"/><circle cx="1942.3" cy="911.9" r="6.7"/><circle cx="1948.2" cy="926.0" r="6.7"/><circle cx="1954.1" cy="846.0" r="6.7"/><circle cx="1960.0" cy="914.0" r="6.7"/><circle cx="1983.6" cy="921.2" r="6.7"/><circle cx="1989.5" cy="979.2" r="6.7"/><circle cx="1995.4" cy="988.5" r="6.7"/><circle cx="2001.3" cy="891.5" r="6.7"/><circle cx="2007.2" cy="947.3" r="6.7"/><circle cx="2013.1" cy="891.5" r="6.7"/><circle cx="2019.0" cy="925.7" r="6.7"/><circle cx="2030.8" cy="968.1" r="6.7"/><circle cx="2036.7" cy="911.4" r="6.7"/><circle cx="2042.6" cy="916.0" r="6.7"/><circle cx="2048.5" cy="821.7" r="6.7"/><circle cx="2054.4" cy="814.8" r="6.7"/><circle cx="2060.3" cy="734.0" r="6.7"/><circle cx="2066.2" cy="662.4" r="6.7"/><circle cx="2072.1" cy="618.4" r="6.7"/><circle cx="2078.0" cy="532.0" r="6.7"/><circle cx="2083.9" cy="564.4" r="6.7"/><circle cx="2089.8" cy="593.6" r="6.7"/><circle cx="2095.7" cy="567.4" r="6.7"/><circle cx="2101.6" cy="609.6" r="6.7"/><circle cx="2113.4" cy="560.4" r="6.7"/><circle cx="2119.3" cy="525.6" r="6.7"/><circle cx="2125.2" cy="597.6" r="6.7"/><circle cx="2131.1" cy="554.4" r="6.7"/><circle cx="2137.0" cy="512.6" r="6.7"/><circle cx="2142.9" cy="486.6" r="6.7"/><circle cx="2148.8" cy="543.6" r="6.7"/><circle cx="2154.7" cy="561.6" r="6.7"/><circle cx="2160.6" cy="550.0" r="6.7"/><circle cx="2166.5" cy="520.6" r="6.7"/><circle cx="2172.4" cy="550.0" r="6.7"/><circle cx="2178.3" cy="517.6" r="6.7"/><circle cx="2184.2" cy="574.0" r="6.7"/><circle cx="2190.1" cy="573.0" r="6.7"/><circle cx="2196.0" cy="529.6" r="6.7"/><circle cx="2201.9" cy="560.0" r="6.7"/><circle cx="2207.8" cy="600.0" r="6.7"/><circle cx="2213.7" cy="524.3" r="6.7"/><circle cx="2219.6" cy="564.9" r="6.7"/><circle cx="2225.5" cy="560.0" r="6.7"/><circle cx="2231.4" cy="548.1" r="6.7"/><circle cx="2237.3" cy="566.8" r="6.7"/><circle cx="2243.2" cy="584.6" r="6.7"/><circle cx="2249.1" cy="650.3" r="6.7"/><circle cx="2255.0" cy="617.6" r="6.7"/><circle cx="2260.9" cy="559.3" r="6.7"/><circle cx="2266.8" cy="606.0" r="6.7"/><circle cx="2272.7" cy="625.7" r="6.7"/><circle cx="2278.6" cy="609.6" r="6.7"/><circle cx="2284.5" cy="588.2" r="6.7"/><circle cx="2290.4" cy="598.9" r="6.7"/><circle cx="2296.3" cy="577.5" r="6.7"/><circle cx="2302.2" cy="585.0" r="6.7"/><circle cx="2308.1" cy="579.0" r="6.7"/><circle cx="2314.0" cy="593.1" r="6.7"/><circle cx="2319.9" cy="596.8" r="6.7"/><circle cx="2325.8" cy="658.9" r="6.7"/><circle cx="2331.7" cy="615.4" r="6.7"/><circle cx="2337.6" cy="675.0" r="6.7"/><circle cx="2343.5" cy="679.7" r="6.7"/><circle cx="2349.4" cy="661.1" r="6.7"/><circle cx="2355.3" cy="626.1" r="6.7"/><circle cx="2361.2" cy="624.6" r="6.7"/></g>
<circle cx="2367.1" cy="574.4" r="8" fill="#b2ee8e" stroke="#111" stroke-width="2"/>
<path d="M2045.9 174.5V1301.0" stroke="#5a5aff" stroke-width="4"/>
<path d="M2081 174.5V1301.0" stroke="#dc4545" stroke-width="4"/>
<path d="M154.0 1277.1h12M2421.0 1277.1h-12M154.0 1245.8h12M2421.0 1245.8h-12M154.0 1214.5h31M2421.0 1214.5h-31M154.0 1183.3h12M2421.0 1183.3h-12M154.0 1152.0h12M2421.0 1152.0h-12M154.0 1120.8h12M2421.0 1120.8h-12M154.0 1089.5h12M2421.0 1089.5h-12M154.0 1058.3h31M2421.0 1058.3h-31M154.0 1027.0h12M2421.0 1027.0h-12M154.0 995.7h12M2421.0 995.7h-12M154.0 964.5h12M2421.0 964.5h-12M154.0 933.2h12M2421.0 933.2h-12M154.0 902.0h31M2421.0 902.0h-31M154.0 870.7h12M2421.0 870.7h-12M154.0 839.5h12M2421.0 839.5h-12M154.0 808.2h12M2421.0 808.2h-12M154.0 777.0h12M2421.0 777.0h-12M154.0 745.7h31M2421.0 745.7h-31M154.0 714.4h12M2421.0 714.4h-12M154.0 683.2h12M2421.0 683.2h-12M154.0 651.9h12M2421.0 651.9h-12M154.0 620.7h12M2421.0 620.7h-12M154.0 589.4h31M2421.0 589.4h-31M154.0 558.2h12M2421.0 558.2h-12M154.0 526.9h12M2421.0 526.9h-12M154.0 495.7h12M2421.0 495.7h-12M154.0 464.4h12M2421.0 464.4h-12M154.0 433.1h31M2421.0 433.1h-31M154.0 401.9h12M2421.0 401.9h-12M154.0 370.6h12M2421.0 370.6h-12M154.0 339.4h12M2421.0 339.4h-12M154.0 308.1h12M2421.0 308.1h-12M154.0 276.9h31M2421.0 276.9h-31M154.0 245.6h12M2421.0 245.6h-12M154.0 214.3h12M2421.0 214.3h-12M154.0 183.1h12M2421.0 183.1h-12" stroke="#222" stroke-width="2" fill="none"/>
<path d="M240.1 167.5V181.5M240.1 1294.0V1308.0M417.1 167.5V181.5M417.1 1294.0V1308.0M600.0 167.5V181.5M600.0 1294.0V1308.0M777.0 167.5V181.5M777.0 1294.0V1308.0M959.9 150.5V198.5M959.9 1277.0V1325.0M1142.8 167.5V181.5M1142.8 1294.0V1308.0M1308.0 167.5V181.5M1308.0 1294.0V1308.0M1491.0 167.5V181.5M1491.0 1294.0V1308.0M1668.0 167.5V181.5M1668.0 1294.0V1308.0M1850.9 167.5V181.5M1850.9 1294.0V1308.0M2027.9 167.5V181.5M2027.9 1294.0V1308.0M2210.8 167.5V181.5M2210.8 1294.0V1308.0M2393.7 167.5V181.5M2393.7 1294.0V1308.0" stroke="#222" stroke-width="3" fill="none"/>
<path d="M154.0 173.0V1302.5" stroke="#111" stroke-width="3"/>
<path d="M154.0 174.5H2421.0M154.0 1301.0H2423.0M2421.0 172.5V1303.0" stroke="#3c3c3c" stroke-width="3.8" fill="none"/>
<text x="0" y="0" font-size="38.5" text-anchor="middle" fill="#111" stroke="#111" stroke-width="0.6" transform="translate(240.1 1346) scale(0.98 1)">Sep</text>
<text x="0" y="0" font-size="38.5" text-anchor="middle" fill="#111" stroke="#111" stroke-width="0.6" transform="translate(417.1 1346) scale(0.98 1)">Oct</text>
<text x="0" y="0" font-size="38.5" text-anchor="middle" fill="#111" stroke="#111" stroke-width="0.6" transform="translate(600.0 1346) scale(0.98 1)">Nov</text>
<text x="0" y="0" font-size="38.5" text-anchor="middle" fill="#111" stroke="#111" stroke-width="0.6" transform="translate(777.0 1346) scale(0.98 1)">Dec</text>
<text x="0" y="0" font-size="38.5" text-anchor="middle" fill="#111" stroke="#111" stroke-width="0.6" transform="translate(959.9 1346) scale(0.98 1)">Jan</text>
<text x="0" y="0" font-size="38.5" text-anchor="middle" fill="#111" stroke="#111" stroke-width="0.6" transform="translate(1142.8 1346) scale(0.98 1)">Feb</text>
<text x="0" y="0" font-size="38.5" text-anchor="middle" fill="#111" stroke="#111" stroke-width="0.6" transform="translate(1308.0 1346) scale(0.98 1)">Mar</text>
<text x="0" y="0" font-size="38.5" text-anchor="middle" fill="#111" stroke="#111" stroke-width="0.6" transform="translate(1491.0 1346) scale(0.98 1)">Apr</text>
<text x="0" y="0" font-size="38.5" text-anchor="middle" fill="#111" stroke="#111" stroke-width="0.6" transform="translate(1668.0 1346) scale(0.98 1)">May</text>
<text x="0" y="0" font-size="38.5" text-anchor="middle" fill="#111" stroke="#111" stroke-width="0.6" transform="translate(1850.9 1346) scale(0.98 1)">Jun</text>
<text x="0" y="0" font-size="38.5" text-anchor="middle" fill="#111" stroke="#111" stroke-width="0.6" transform="translate(2027.9 1346) scale(0.98 1)">Jul</text>
<text x="0" y="0" font-size="38.5" text-anchor="middle" fill="#111" stroke="#111" stroke-width="0.6" transform="translate(2210.8 1346) scale(0.98 1)">Aug</text>
<text x="0" y="0" font-size="38.5" text-anchor="middle" fill="#111" stroke="#111" stroke-width="0.6" transform="translate(2393.7 1346) scale(0.98 1)">Sep</text>
<text class="serif" x="141.5" y="1225.0" font-size="37" text-anchor="end" fill="#222" stroke="#222" stroke-width="0.7">30</text>
<path d="M78.4 1215.8H100.6" stroke="#333" stroke-width="1.7"/>
<text class="serif" x="141.5" y="1068.8" font-size="37" text-anchor="end" fill="#222" stroke="#222" stroke-width="0.7">20</text>
<path d="M78.4 1059.6H100.6" stroke="#333" stroke-width="1.7"/>
<text class="serif" x="141.5" y="912.5" font-size="37" text-anchor="end" fill="#222" stroke="#222" stroke-width="0.7">10</text>
<path d="M78.4 903.3H100.6" stroke="#333" stroke-width="1.7"/>
<text class="serif" x="141.5" y="756.2" font-size="37" text-anchor="end" fill="#222" stroke="#222" stroke-width="0.7">0</text>
<text class="serif" x="141.5" y="599.9" font-size="37" text-anchor="end" fill="#222" stroke="#222" stroke-width="0.7">10</text>
<text class="serif" x="141.5" y="443.6" font-size="37" text-anchor="end" fill="#222" stroke="#222" stroke-width="0.7">20</text>
<text class="serif" x="141.5" y="287.4" font-size="37" text-anchor="end" fill="#222" stroke="#222" stroke-width="0.7">30</text>
<text x="0" y="0" font-size="56" text-anchor="middle" fill="#111" stroke="#111" stroke-width="0.8" transform="translate(53 746.3) rotate(-90) scale(0.987 1)">North [mm]</text>
<text x="0" y="0" font-size="56" text-anchor="middle" fill="#111" stroke="#111" stroke-width="0.8" transform="translate(2514 740.8) rotate(-90) scale(0.987 1)">North [mm]</text>
<text x="0" y="0" font-size="82" fill="#000" stroke="#000" stroke-width="0.8" transform="translate(627.73 74.20) scale(0.9383 1)">Festarfjall (FEFC)</text>
<text x="0" y="0" font-size="45.5" fill="#111" stroke="#111" stroke-width="0.8" transform="translate(1280.15 74.00) scale(0.9864 1)">Reference frame: Eurasian Plate</text>
<text x="0" y="0" font-size="57" fill="#9afc32" stroke="#9afc32" stroke-width="0.8" transform="translate(588.03 146.60) scale(0.9537 1)">Last datapoint: 27 Aug 2023</text>
<text x="0" y="0" font-size="38" fill="#111" stroke="#111" stroke-width="0.8" transform="translate(1294.27 146.20) scale(0.9886 1)">(Plot created on Aug 28 2023 11:17 GMT)</text>
</g></svg></div></body></html>
